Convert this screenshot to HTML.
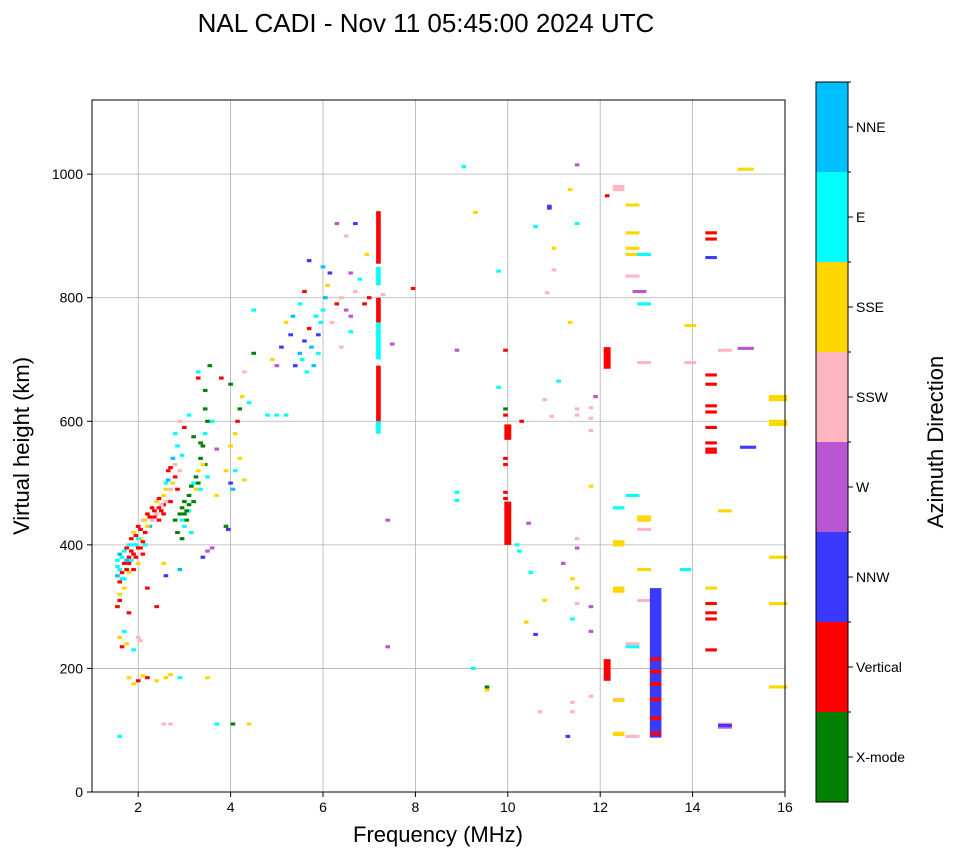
<!DOCTYPE html>
<html><head><meta charset="utf-8"><style>
body{margin:0;background:#fff;}
svg text{font-family:"Liberation Sans",sans-serif;}
</style></head><body>
<svg id="chart" width="958" height="857" xmlns="http://www.w3.org/2000/svg">
<text x="426" y="32" font-size="26" text-anchor="middle">NAL CADI - Nov 11 05:45:00 2024 UTC</text>
<g id="grid"></g><g id="marks"></g><g id="axes"></g><g id="cbar"></g>
</svg>
<script>
const directions=["X-mode","Vertical","NNW","W","SSW","SSE","E","NNE"];
const dirColors=["#008000","#ff0000","#3a3aff","#ba55d3","#ffb6c1","#ffd700","#00ffff","#00bfff"];
const xTicks=[2,4,6,8,10,12,14,16];
const yTicks=[0,200,400,600,800,1000];
// echoes: [freq MHz, height km, direction index, bin width MHz]
const echoes=[
[1.55,350,7],[1.6,360,6],[1.6,340,1],[1.65,380,6],[1.7,370,1],[1.7,330,5],[1.75,395,1],[1.8,400,6],[1.8,355,5],[1.85,410,1],[1.9,385,1],[1.9,420,5],[1.95,400,6],[2.0,395,1],[2.0,430,1],[2.05,410,5],[2.1,440,4],[2.15,420,1],[2.2,450,1],[2.25,430,7],[2.3,460,1],[2.4,470,5],[2.45,440,1],[2.5,455,1],[2.55,480,5],[2.6,500,6],[2.65,520,1],[2.7,490,4],[2.75,540,7],[2.8,510,1],[2.85,560,6],
[1.55,365,6],[1.6,320,5],[1.65,345,6],[1.75,360,1],[1.85,375,6],[1.95,415,1],[2.05,395,1],[2.15,440,5],[2.35,445,1],[2.45,460,1],[2.55,465,1],[2.6,470,4],[2.7,525,1],[2.8,580,6],[2.9,600,4],
[1.55,375,6],[1.6,385,7],[1.65,355,1],[1.7,390,6],[1.75,375,7],[1.8,380,1],[1.85,390,1],[1.9,400,6],[1.95,380,1],[2.0,410,6],[2.05,425,1],[2.1,405,1],[2.15,400,6],[2.2,430,5],[2.25,445,1],[2.3,440,4],[2.35,455,1],[2.4,450,4],[2.45,475,1],[2.5,465,4],[2.55,450,1],[2.6,490,5],[2.65,505,7],[2.7,470,1],[2.75,500,5],[2.8,530,4],[2.85,490,1],[2.9,520,4],[2.95,545,6],[1.6,310,1],[1.7,345,6],[1.8,370,1],[1.9,360,1],[2.0,370,5],[2.1,385,1],
[3.0,450,0],[3.1,455,6],[3.2,470,0],[3.3,500,0],[3.35,490,6],[3.45,530,0],
[1.55,300,1],[1.6,250,5],[1.65,235,1],[1.7,260,6],[1.75,240,5],[1.8,290,1],[1.9,230,6],[2.0,250,4],[2.05,245,4],[1.6,90,6],[1.8,185,5],[1.9,175,5],[2.0,180,1],[2.1,188,5],[2.2,185,1],[2.4,180,5],[2.6,185,5],[2.7,190,5],[2.9,185,6],[2.55,110,4],[2.7,110,4],[2.4,300,1],[2.2,330,1],[2.6,350,2],[2.9,360,7],[2.55,370,5],
[2.8,440,0],[2.85,420,0],[2.9,450,0],[2.95,460,0],[3.0,470,0],[3.05,440,0],[3.1,480,0],[3.15,495,0],[3.2,500,6],[3.25,510,0],[3.3,520,5],[3.35,540,0],[3.4,560,0],[3.45,580,6],[3.5,600,0],[3.45,650,0],[3.55,690,0],[3.3,670,1],[3.0,590,1],[3.1,610,6],[3.2,575,0],[3.4,530,5],[3.5,510,6],[3.0,430,6],[2.95,410,0],[3.15,420,6],[3.4,380,2],[3.5,390,3],[3.6,395,3],[3.7,480,5],[3.9,430,0],[3.95,425,2],[4.0,500,2],[4.05,490,7],[4.1,520,6],[4.2,540,5],[4.3,505,5],[4.1,580,5],[4.15,600,1],[4.2,620,0],[4.25,640,5],[4.0,660,0],[3.8,670,1],[4.3,680,4],[4.5,710,0],[4.5,780,6],[4.4,630,6],[4.0,560,5],[3.9,520,5],[3.7,555,3],[3.6,600,6],[3.7,110,6],[4.05,110,0],[4.4,110,5],[3.5,185,5],[3.3,680,6],
[3.05,455,0],[3.25,490,5],[3.35,565,0],[3.45,620,0],[2.95,440,6],[3.1,465,0],
[4.9,700,5],[5.0,690,3],[5.1,720,2],[5.2,760,5],[5.3,740,2],[5.35,770,7],[5.4,690,2],[5.5,710,7],[5.55,700,6],[5.6,730,2],[5.65,680,6],[5.7,750,1],[5.75,720,7],[5.8,690,7],[5.85,770,6],[5.9,740,2],[5.95,760,6],[6.0,780,6],[6.05,800,7],[6.1,820,5],[6.15,840,2],[6.0,850,7],[6.2,760,4],[6.3,790,1],[6.4,800,4],[6.5,780,3],[6.5,900,4],[6.6,840,3],[6.7,810,4],[6.8,830,6],[6.9,790,1],[6.95,870,5],[6.3,920,3],[6.7,920,2],[5.9,710,6],[5.6,810,1],[5.7,860,2],[5.2,610,6],[5.0,610,6],[4.8,610,6],[5.5,790,6],[6.4,720,4],[6.6,770,3],[6.6,745,6],[7.0,800,1],[7.3,805,4],[7.5,725,3],[7.4,440,3],[7.4,235,3],[7.95,815,1],
[9.05,1012,6],[8.9,715,3],[8.9,485,6],[8.9,472,6],[9.3,938,5],[9.25,200,6],[9.55,170,0],[9.55,165,5],[9.8,655,6],[9.8,843,6],[9.95,715,1],[9.95,620,0],[9.95,610,1],[9.95,540,1],[9.95,530,1],[9.95,485,1],[10.2,400,6],[10.25,390,6],[10.3,600,1],[10.4,275,5],[10.5,355,6],[10.6,915,6],[10.6,255,2],[10.7,130,4],[10.8,310,5],[10.8,635,4],[10.85,808,4],[10.9,945,2],[10.9,948,2],[10.95,608,4],[11.0,880,5],[11.0,845,4],[11.1,665,6],[11.2,370,3],[11.3,90,2],[11.35,975,5],[11.35,760,5],[11.4,345,5],[11.4,280,6],[11.4,130,4],[11.4,145,4],[11.5,920,6],[11.5,410,4],[11.5,330,5],[11.5,305,4],[11.5,620,4],[11.5,610,4],[11.5,395,3],[11.8,605,4],[11.8,585,4],[11.8,300,3],[11.8,260,3],[11.8,155,4],[11.8,495,5],[11.8,622,4],[12.15,965,1],
[12.4,980,4,0.25],[12.4,975,4,0.25],[12.7,950,5,0.3],[12.7,905,5,0.3],[12.7,880,5,0.3],[12.7,870,5,0.3],[12.7,835,4,0.3],[12.95,870,6,0.3],[12.85,810,3,0.3],[12.95,790,6,0.3],[12.95,695,4,0.3],[12.7,480,6,0.3],[12.4,460,6,0.25],[12.4,405,5,0.25],[12.4,400,5,0.25],[12.4,330,5,0.25],[12.4,325,5,0.25],[12.4,150,4,0.25],[12.4,148,5,0.25],[12.4,95,5,0.25],[12.4,93,5,0.25],[12.7,240,4,0.3],[12.7,235,6,0.3],[12.7,90,4,0.3],[12.95,440,5,0.3],[12.95,445,5,0.3],[12.95,425,4,0.3],[12.95,360,5,0.3],[12.95,310,4,0.3],[13.85,360,6,0.25],
[13.95,755,5,0.25],[13.95,695,4,0.25],[14.4,905,1,0.25],[14.4,895,1,0.25],[14.4,865,2,0.25],[14.4,675,1,0.25],[14.4,660,1,0.25],[14.4,625,1,0.25],[14.4,615,1,0.25],[14.4,590,1,0.25],[14.4,565,1,0.25],[14.4,555,1,0.25],[14.4,550,1,0.25],[14.4,330,5,0.25],[14.4,305,1,0.25],[14.4,290,1,0.25],[14.4,280,1,0.25],[14.4,230,1,0.25],[14.7,715,4,0.3],[14.7,455,5,0.3],[14.7,110,4,0.3],[14.7,105,3,0.3],[14.7,108,2,0.3],[15.15,718,3,0.35],[15.15,1008,5,0.35],[15.2,558,2,0.35],
[15.85,640,5,0.4],[15.85,635,5,0.4],[15.85,600,5,0.4],[15.85,595,5,0.4],[15.85,380,5,0.4],[15.85,305,5,0.4],[15.85,170,5,0.4],[11.9,640,3],[10.45,435,3],[11.5,1015,3],[9.95,475,1]
];
// bars: [freq MHz, bottom km, top km, direction index, width MHz]
const bars=[
[7.2,855,940,1,0.1],[7.2,820,850,6,0.1],[7.2,760,800,1,0.1],[7.2,700,760,6,0.1],[7.2,600,690,1,0.1],[7.2,580,600,6,0.1],
[10.0,400,470,1,0.15],[10.0,570,595,1,0.15],[12.15,180,215,1,0.15],[12.15,685,720,1,0.15],[13.2,88,330,2,0.25]
];
// red marks on 13.2 MHz bar
const markHeights=[95,120,150,175,195,215];

const X0=92,X1=785,Y0=792,Y1=100,FMIN=1,FMAX=16,HMAX=1120;
const sx=f=>X0+(f-FMIN)/(FMAX-FMIN)*(X1-X0);
const sy=h=>Y0-h/HMAX*(Y0-Y1);
const NS="http://www.w3.org/2000/svg";
function mk(parent,tag,attrs){const e=document.createElementNS(NS,tag);for(const k in attrs)e.setAttribute(k,attrs[k]);parent.appendChild(e);return e;}
const grid=document.getElementById('grid'),marks=document.getElementById('marks'),axes=document.getElementById('axes'),cbar=document.getElementById('cbar');
xTicks.forEach(t=>{const l=mk(grid,'line',{x1:sx(t),x2:sx(t),y1:Y1,y2:Y0,stroke:'#b0b0b0','stroke-width':0.8});

});
yTicks.forEach(t=>{const l=mk(grid,'line',{x1:X0,x2:X1,y1:sy(t),y2:sy(t),stroke:'#b0b0b0','stroke-width':0.8});

});
echoes.forEach(p=>{const w=p[3]||0.1;const r=mk(marks,'rect',{x:sx(p[0]-w/2),y:sy(p[1]+2.5),width:sx(w)-sx(0),height:sy(0)-sy(5),fill:dirColors[p[2]]});

});
bars.forEach(b=>{const r=mk(marks,'rect',{x:sx(b[0]-b[4]/2),y:sy(b[2]),width:sx(b[4])-sx(0),height:sy(b[1])-sy(b[2]),fill:dirColors[b[3]]});

});
markHeights.forEach(h=>{const r=mk(marks,'rect',{x:sx(13.2-0.125),y:sy(h+3),width:sx(0.25)-sx(0),height:sy(0)-sy(6),fill:dirColors[1]});

});
const frame=mk(axes,'rect',{x:X0,y:Y1,width:X1-X0,height:Y0-Y1,fill:'none',stroke:'#000','stroke-width':1});


xTicks.forEach(t=>{mk(axes,'line',{x1:sx(t),x2:sx(t),y1:Y0,y2:Y0+5,stroke:'#000'});
const tx=mk(axes,'text',{x:sx(t),y:Y0+20,'font-size':14,'text-anchor':'middle'});tx.textContent=t;

});
yTicks.forEach(t=>{mk(axes,'line',{x1:X0-5,x2:X0,y1:sy(t),y2:sy(t),stroke:'#000'});
const tx=mk(axes,'text',{x:X0-9,y:sy(t)+5,'font-size':14,'text-anchor':'end'});tx.textContent=t;

});
const xl=mk(axes,'text',{x:438,y:842,'font-size':22,'text-anchor':'middle'});xl.textContent='Frequency (MHz)';


const yl=mk(axes,'text',{x:0,y:0,'font-size':22,'text-anchor':'middle',transform:'translate(29,446) rotate(-90)'});yl.textContent='Virtual height (km)';


const CX=816,CW=32,CT=82,CB=802,seg=(CB-CT)/directions.length;
directions.forEach((d,i)=>{const y=CB-(i+1)*seg;
const r=mk(cbar,'rect',{x:CX,y:y,width:CW,height:seg,fill:dirColors[i]});


mk(cbar,'line',{x1:CX+CW,x2:CX+CW+5,y1:y+seg/2,y2:y+seg/2,stroke:'#000'});
mk(cbar,'line',{x1:CX+CW,x2:CX+CW+3,y1:y,y2:y,stroke:'#000'});
const t=mk(cbar,'text',{x:CX+CW+8,y:y+seg/2+5,'font-size':14});t.textContent=d;

});
const cf=mk(cbar,'rect',{x:CX,y:CT,width:CW,height:CB-CT,fill:'none',stroke:'#000'});


const ct=mk(cbar,'text',{x:0,y:0,'font-size':22,'text-anchor':'middle',transform:'translate(943,442) rotate(-90)'});ct.textContent='Azimuth Direction';


</script>
</body></html>
